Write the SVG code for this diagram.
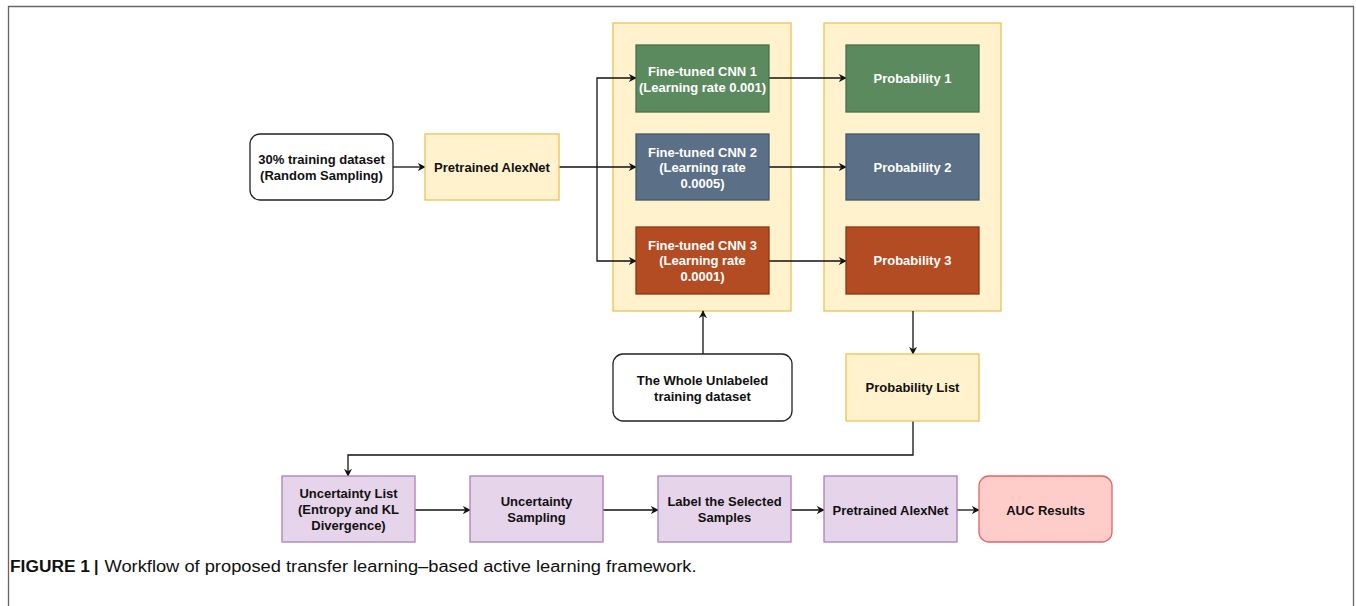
<svg xmlns="http://www.w3.org/2000/svg" width="1356" height="606" viewBox="0 0 1356 606">
<style>
.t{font-family:"Liberation Sans",Arial,sans-serif;font-weight:bold;font-size:13px;text-anchor:middle;fill:#111}
.w{fill:#fff}
.plain{fill:#fff;stroke:#222;stroke-width:1.3}
.yel{fill:#fff2cc;stroke:#ecc256;stroke-width:1.3}
.pur{fill:#e6d4ea;stroke:#a97fba;stroke-width:1.3}
.c{fill:none;stroke:#111;stroke-width:1.3}
.cap{font-family:"Liberation Sans",Arial,sans-serif;font-size:16px;fill:#111}
</style>
<defs>
<marker id="ah" viewBox="0 0 10 10" refX="9" refY="5" markerWidth="8" markerHeight="8" markerUnits="userSpaceOnUse" orient="auto">
<path d="M0,0 L10,5 L0,10 L3,5 z" fill="#111"/>
</marker>
</defs>
<rect width="1356" height="606" fill="#fff"/>
<path d="M8.5,606 V6.5 H1353.5 V606" fill="none" stroke="#666" stroke-width="1.3"/>

<g id="containers">
<rect id="cnn-container" class="yel" x="613" y="23" width="178" height="288"/>
<rect id="prob-container" class="yel" x="824" y="23" width="177" height="288"/>
</g>

<g id="connectors">
<path class="c" d="M393,167 H425" marker-end="url(#ah)"/>
<path class="c" d="M559,167 H636" marker-end="url(#ah)"/>
<path class="c" d="M597,167 V78 H636" marker-end="url(#ah)"/>
<path class="c" d="M597,167 V261 H636" marker-end="url(#ah)"/>
<path class="c" d="M769,78 H846" marker-end="url(#ah)"/>
<path class="c" d="M769,167 H846" marker-end="url(#ah)"/>
<path class="c" d="M769,261 H846" marker-end="url(#ah)"/>
<path class="c" d="M703,354 V311" marker-end="url(#ah)"/>
<path class="c" d="M913,311 V354" marker-end="url(#ah)"/>
<path class="c" d="M913,421 V455 H348 V476" marker-end="url(#ah)"/>
<path class="c" d="M415,510 H470" marker-end="url(#ah)"/>
<path class="c" d="M603,510 H658" marker-end="url(#ah)"/>
<path class="c" d="M791,510 H824" marker-end="url(#ah)"/>
<path class="c" d="M957,510 H979" marker-end="url(#ah)"/>
</g>

<g id="n-training">
<rect class="plain" x="250" y="134" width="143" height="66" rx="10"/>
<text class="t" x="321.5" y="164">30% training dataset</text>
<text class="t" x="321.5" y="180">(Random Sampling)</text>
</g>
<g id="n-alexnet1">
<rect class="yel" x="425" y="134" width="134" height="66"/>
<text class="t" x="492" y="171.5">Pretrained AlexNet</text>
</g>
<g id="n-cnn1">
<rect x="636" y="45" width="133" height="67" fill="#5c8a5f" stroke="#46704a" stroke-width="1.3"/>
<text class="t w" x="702.5" y="76">Fine-tuned CNN 1</text>
<text class="t w" x="702.5" y="91.5">(Learning rate 0.001)</text>
</g>
<g id="n-cnn2">
<rect x="636" y="134" width="133" height="66" fill="#5b7087" stroke="#3f5770" stroke-width="1.3"/>
<text class="t w" x="702.5" y="156.5">Fine-tuned CNN 2</text>
<text class="t w" x="702.5" y="172">(Learning rate</text>
<text class="t w" x="702.5" y="187.5">0.0005)</text>
</g>
<g id="n-cnn3">
<rect x="636" y="227" width="133" height="67" fill="#b34c22" stroke="#8e3512" stroke-width="1.3"/>
<text class="t w" x="702.5" y="249.5">Fine-tuned CNN 3</text>
<text class="t w" x="702.5" y="265">(Learning rate</text>
<text class="t w" x="702.5" y="280.5">0.0001)</text>
</g>
<g id="n-prob1">
<rect x="846" y="45" width="133" height="67" fill="#5c8a5f" stroke="#46704a" stroke-width="1.3"/>
<text class="t w" x="912.5" y="83">Probability 1</text>
</g>
<g id="n-prob2">
<rect x="846" y="134" width="133" height="66" fill="#5b7087" stroke="#3f5770" stroke-width="1.3"/>
<text class="t w" x="912.5" y="171.5">Probability 2</text>
</g>
<g id="n-prob3">
<rect x="846" y="227" width="133" height="67" fill="#b34c22" stroke="#8e3512" stroke-width="1.3"/>
<text class="t w" x="912.5" y="265">Probability 3</text>
</g>
<g id="n-unlabeled">
<rect class="plain" x="613" y="354" width="179" height="67" rx="10"/>
<text class="t" x="702.5" y="385">The Whole Unlabeled</text>
<text class="t" x="702.5" y="401">training dataset</text>
</g>
<g id="n-problist">
<rect class="yel" x="846" y="354" width="133" height="67"/>
<text class="t" x="912.5" y="392">Probability List</text>
</g>
<g id="n-uncertlist">
<rect class="pur" x="282" y="476" width="133" height="66"/>
<text class="t" x="348.5" y="498">Uncertainty List</text>
<text class="t" x="348.5" y="514">(Entropy and KL</text>
<text class="t" x="348.5" y="530">Divergence)</text>
</g>
<g id="n-uncertsamp">
<rect class="pur" x="470" y="476" width="133" height="66"/>
<text class="t" x="536.5" y="506">Uncertainty</text>
<text class="t" x="536.5" y="522">Sampling</text>
</g>
<g id="n-label">
<rect class="pur" x="658" y="476" width="133" height="66"/>
<text class="t" x="724.5" y="506">Label the Selected</text>
<text class="t" x="724.5" y="522">Samples</text>
</g>
<g id="n-alexnet2">
<rect class="pur" x="824" y="476" width="133" height="66"/>
<text class="t" x="890.5" y="514.5">Pretrained AlexNet</text>
</g>
<g id="n-auc">
<rect x="979" y="476" width="133" height="66" rx="10" fill="#ffcdc9" stroke="#e06666" stroke-width="1.3"/>
<text class="t" x="1045.5" y="514.5">AUC Results</text>
</g>

<g id="caption">
<text class="cap" x="10" y="572"><tspan font-weight="bold" textLength="80" lengthAdjust="spacingAndGlyphs">FIGURE 1</tspan><tspan dx="4" font-weight="bold">|</tspan><tspan dx="6" textLength="592" lengthAdjust="spacingAndGlyphs">Workflow of proposed transfer learning–based active learning framework.</tspan></text>
</g>
</svg>
